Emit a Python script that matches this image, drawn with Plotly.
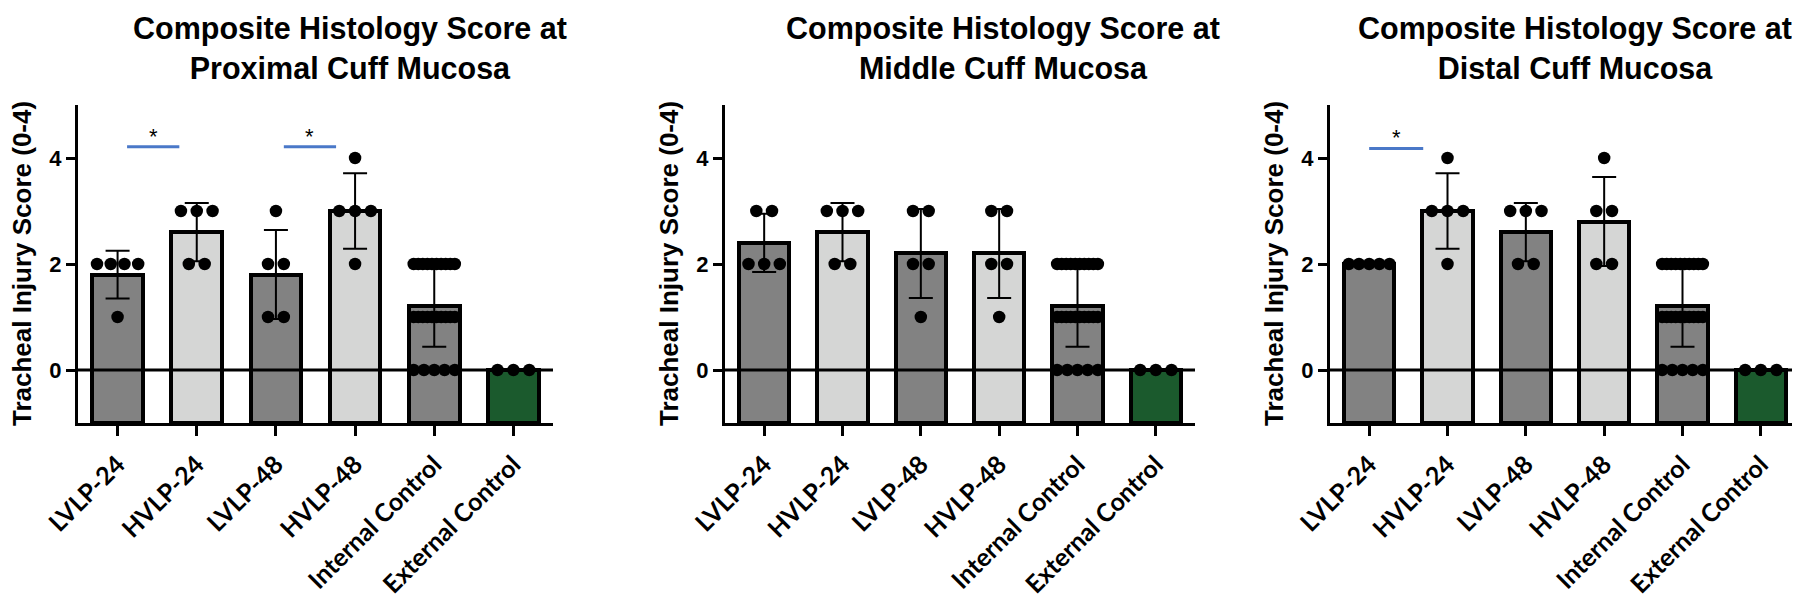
import plotly.graph_objects as go

# groups on the x axis
categories = ["LVLP-24", "HVLP-24", "LVLP-48", "HVLP-48", "Internal Control", "External Control"]
bar_colors = ["#828282", "#d5d6d5", "#828282", "#d5d6d5", "#828282", "#1b5a2d"]

panel_titles = [
    "Composite Histology Score at<br>Proximal Cuff Mucosa",
    "Composite Histology Score at<br>Middle Cuff Mucosa",
    "Composite Histology Score at<br>Distal Cuff Mucosa",
]

internal_pts = [2, 2, 2, 2, 2, 2, 2, 2, 2, 2,
                1, 1, 1, 1, 1, 1, 1, 1, 1, 1,
                0, 0, 0, 0, 0]

# individual animal scores
proximal_pts = [[2, 2, 2, 2, 1], [3, 3, 3, 2, 2], [3, 2, 2, 1, 1], [4, 3, 3, 3, 2], internal_pts, [0, 0, 0]]
middle_pts = [[3, 3, 2, 2, 2], [3, 3, 3, 2, 2], [3, 3, 2, 2, 1], [3, 3, 2, 2, 1], internal_pts, [0, 0, 0]]
distal_pts = [[2, 2, 2, 2, 2], [4, 3, 3, 3, 2], [3, 3, 3, 2, 2], [4, 3, 3, 2, 2], internal_pts, [0, 0, 0]]

# bar heights (mean) and error bars (SD)
proximal_mean = [1.8, 2.6, 1.8, 3.0, 1.2, 0.0]
proximal_sd = [0.45, 0.55, 0.84, 0.71, 0.76, 0.0]
middle_mean = [2.4, 2.6, 2.2, 2.2, 1.2, 0.0]
middle_sd = [0.55, 0.55, 0.84, 0.84, 0.76, 0.0]
distal_mean = [2.0, 3.0, 2.6, 2.8, 1.2, 0.0]
distal_sd = [0.0, 0.71, 0.55, 0.84, 0.76, 0.0]

# significance brackets: (start, end, height) in category units
proximal_sig = [(0.12, 0.78, 4.21), (2.10, 2.76, 4.21)]
middle_sig = []
distal_sig = [(0.0, 0.69, 4.18)]

panels = [
    (proximal_pts, proximal_mean, proximal_sd, proximal_sig),
    (middle_pts, middle_mean, middle_sd, middle_sig),
    (distal_pts, distal_mean, distal_sd, distal_sig),
]

W, H = 1800, 603
x_px = [(70, 545), (717, 1187), (1322, 1792)]
title_cx = [342, 995, 1567]
y_top, y_bot = 97, 415
ydom = [1 - y_bot / H, 1 - y_top / H]
y_floor = -1  # GraphPad draws the bars up from the bottom of the axis


def spread(points, i):
    # lay equal scores side by side like a GraphPad scatter
    xs, ys = [], []
    for v in sorted(set(points), reverse=True):
        n = points.count(v)
        step = min(0.2, 0.52 / max(n - 1, 1))
        for k in range(n):
            xs.append(i + (k - (n - 1) / 2) * step)
            ys.append(v)
    return xs, ys


fig = go.Figure()
annotations = []
shapes = []

for p, (pts, mean, sd, sig) in enumerate(panels):
    sfx = "" if p == 0 else str(p + 1)
    xa, ya = "x" + sfx, "y" + sfx
    fig.add_trace(go.Bar(
        x=list(range(len(categories))), y=[m - y_floor for m in mean], base=y_floor, width=0.64,
        marker=dict(color=bar_colors, line=dict(color="black", width=4)),
        error_y=dict(type="data", array=sd, visible=True, color="black", thickness=2, width=12),
        xaxis=xa, yaxis=ya, showlegend=False,
    ))
    xs, ys = [], []
    for i, grp in enumerate(pts):
        gx, gy = spread(grp, i)
        xs += gx
        ys += gy
    fig.add_trace(go.Scatter(
        x=xs, y=ys, mode="markers", marker=dict(color="black", size=12.5),
        xaxis=xa, yaxis=ya, showlegend=False, cliponaxis=False,
    ))
    for x0, x1, h in sig:
        fig.add_trace(go.Scatter(
            x=[x0, x1], y=[h, h], mode="lines", line=dict(color="#4a78c8", width=3),
            xaxis=xa, yaxis=ya, showlegend=False,
        ))
        annotations.append(dict(x=(x0 + x1) / 2, y=h, xref=xa, yref=ya, text="*",
                                showarrow=False, xanchor="center", yanchor="bottom", yshift=-4,
                                font=dict(size=22, color="black", family="Arial")))

    x0p, x1p = x_px[p]
    dom = [x0p / W, x1p / W]
    fig.update_layout(**{
        "xaxis" + sfx: dict(
            domain=dom, anchor=ya, range=[-0.5, 5.5], automargin=False,
            tickvals=list(range(len(categories))), ticktext=categories, tickangle=-45,
            showline=True, linecolor="black", linewidth=3,
            ticks="outside", ticklen=10, tickwidth=3, tickcolor="black",
            ticklabelstandoff=4,
            showgrid=False, zeroline=False,
            tickfont=dict(family="Lato", size=25, color="black", weight="bold"),
        ),
        "yaxis" + sfx: dict(
            domain=ydom, anchor=xa, range=[-1, 5], tickvals=[0, 2, 4], automargin=False,
            showline=True, linecolor="black", linewidth=3,
            ticks="outside", ticklen=9, tickwidth=3, tickcolor="black",
            showgrid=False, zeroline=False,
            tickfont=dict(family="Arial", size=22, color="black", weight="bold"),
        ),
    })
    shapes.append(dict(type="line", xref=xa + " domain", yref=ya, x0=0, x1=1, y0=0, y1=0,
                       line=dict(color="black", width=3), layer="above"))
    annotations.append(dict(x=title_cx[p] / W, y=1, xref="paper", yref="paper",
                            text=panel_titles[p], showarrow=False, xanchor="center",
                            yanchor="top", yshift=-1,
                            font=dict(family="Arial", size=30.5, color="black", weight="bold")))
    annotations.append(dict(x=(x0p - 56) / W, y=sum(ydom) / 2, xref="paper", yref="paper",
                            text="Tracheal Injury Score (0-4)", textangle=-90, showarrow=False,
                            xanchor="center", yanchor="middle",
                            font=dict(family="Arial", size=26, color="black", weight="bold")))

fig.update_layout(
    width=W, height=H, margin=dict(l=0, r=0, t=0, b=0),
    paper_bgcolor="white", plot_bgcolor="white",
    annotations=annotations, shapes=shapes, bargap=0,
)

fig.write_html("out.html")
